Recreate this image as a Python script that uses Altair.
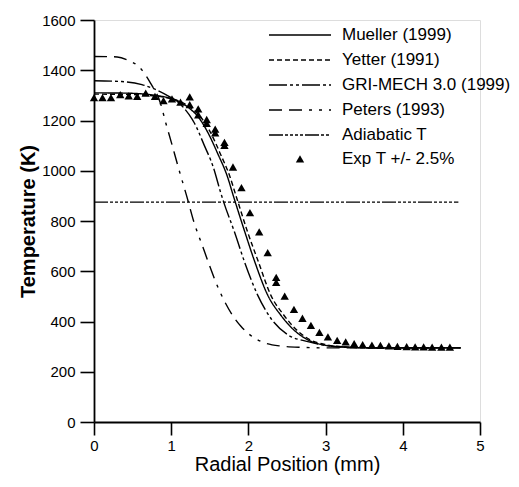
import altair as alt
import pandas as pd

# ---------------- data ----------------
line_names = ["Mueller (1999)", "Yetter (1991)", "GRI-MECH 3.0 (1999)",
              "Peters (1993)", "Adiabatic T"]
exp_name = ["Exp T +/- 2.5%"]

mueller_r = [0, 0.4, 0.8, 1.0, 1.12, 1.25, 1.34, 1.47, 1.6, 1.73, 1.8, 1.95, 2.08,
             2.25, 2.42, 2.59, 2.77, 3.0, 3.3, 3.7, 4.75]
mueller_T = [1310, 1309, 1300, 1287, 1272, 1245, 1218, 1155, 1070, 975, 905, 760, 640,
             505, 425, 366, 327, 305, 297, 295, 295]

yetter_r = [0, 0.4, 0.8, 1.0, 1.12, 1.25, 1.36, 1.5, 1.63, 1.76, 1.84, 1.99, 2.13,
            2.29, 2.46, 2.63, 2.8, 3.0, 3.3, 3.7, 4.75]
yetter_T = [1305, 1304, 1297, 1287, 1275, 1252, 1222, 1158, 1072, 977, 900, 756, 637,
            505, 425, 365, 327, 308, 298, 295, 295]

gri_r = [0, 0.36, 0.62, 0.8, 0.97, 1.1, 1.23, 1.3, 1.43, 1.54, 1.64, 1.68, 1.82, 1.95,
         2.12, 2.29, 2.51, 2.77, 3.0, 3.3, 3.7, 4.75]
gri_T = [1358, 1355, 1343, 1323, 1296, 1270, 1224, 1190, 1100, 1019, 914, 875, 756, 637,
         505, 413, 347, 320, 305, 298, 295, 295]

peters_r = [0, 0.3, 0.45, 0.58, 0.73, 0.86, 0.93, 1.0, 1.1, 1.2, 1.3, 1.4, 1.5, 1.6,
            1.7, 1.8, 1.9, 2.0, 2.1, 2.2, 2.4, 2.7, 3.0, 4.75]
peters_T = [1455, 1453, 1438, 1415, 1350, 1270, 1190, 1115, 1005, 900, 790, 705, 620, 540,
            475, 422, 382, 352, 330, 316, 303, 297, 295, 295]

adiabatic_r = [0, 4.72]
adiabatic_T = [875, 875]

exp_r = [0.0, 0.11, 0.22, 0.34, 0.45, 0.56, 0.67, 0.79, 0.90, 1.01, 1.12, 1.24, 1.24,
         1.35, 1.35, 1.46, 1.46, 1.57, 1.57, 1.69, 1.69, 1.80, 1.91, 2.02, 2.14, 2.25,
         2.36, 2.36, 2.47, 2.59, 2.70, 2.81, 2.92, 3.03, 3.15, 3.26, 3.37, 3.48, 3.60,
         3.71, 3.82, 3.93, 4.05, 4.16, 4.27, 4.38, 4.50, 4.61]
exp_T = [1290, 1290, 1290, 1302, 1297, 1295, 1308, 1295, 1278, 1285, 1272, 1293, 1262,
         1245, 1222, 1203, 1188, 1165, 1150, 1112, 1100, 1014, 932, 832, 756, 673,
         575, 555, 500, 447, 412, 384, 356, 338, 324, 318, 311, 307, 305,
         304, 302, 300, 299, 298, 298, 297, 297, 297]

dash_patterns = [[1, 0], [5, 3], [18, 3, 3, 3, 3, 3], [13, 7, 13, 7, 3, 7, 3, 7],
                 [14, 2, 3, 2, 3, 2, 3, 2, 3, 2]]
TRI_PATH = "M0,-0.125L0.135,0.11L-0.135,0.11Z"

x_ticks = [i * 0.25 for i in range(21)]
y_ticks = [i * 50 for i in range(33)]

# ---------------- tables ----------------
rows = []
for nm, rr, tt in [(line_names[0], mueller_r, mueller_T), (line_names[1], yetter_r, yetter_T),
                   (line_names[2], gri_r, gri_T), (line_names[3], peters_r, peters_T),
                   (line_names[4], adiabatic_r, adiabatic_T)]:
    for r, t in zip(rr, tt):
        rows.append({"series": nm, "r": r, "T": t})
line_df = pd.DataFrame(rows)
exp_df = pd.DataFrame({"series": exp_name[0], "r": exp_r, "T": exp_T})

FONT = "Liberation Sans"
SYM = 3844

xaxis = alt.Axis(
    values=x_ticks, title="Radial Position (mm)",
    labelExpr="datum.value % 1 === 0 ? format(datum.value, 'd') : ''",
    tickSize={"condition": {"test": "datum.value % 1 === 0", "value": 13}, "value": 7},
    labelOverlap=False, labelFlush=False, labelBound=False, grid=False,
    labelFontSize=15, labelPadding=3, titleFontSize=20, titleFontWeight="normal",
    titlePadding=1, domainColor="black", domainWidth=1.8, tickColor="black",
    tickWidth=1.6, labelColor="black", titleColor="black",
    labelFont=FONT, titleFont=FONT,
)
yaxis = alt.Axis(
    values=y_ticks, title="Temperature (K)",
    labelExpr="datum.value % 200 === 0 ? format(datum.value, 'd') : ''",
    tickSize={"condition": {"test": "datum.value % 200 === 0", "value": 14}, "value": 8},
    labelOverlap=False, labelFlush=False, labelBound=False, grid=False,
    labelFontSize=15, labelPadding=5, titleFontSize=20, titleFontWeight="bold",
    titlePadding=3, domainColor="black", domainWidth=1.8, tickColor="black",
    tickWidth=1.6, labelColor="black", titleColor="black",
    labelFont=FONT, titleFont=FONT,
)

common_legend = dict(
    title=None, orient="none", legendX=174,
    symbolSize=SYM, symbolStrokeWidth=1.4, symbolStrokeColor="black",
    labelFont=FONT, labelFontSize=17, labelColor="black", labelLimit=400,
    labelOffset=10, rowPadding=5, clipHeight=20, symbolOpacity=1,
)
line_legend = alt.Legend(legendY=5, symbolType="stroke", **common_legend)
exp_legend = alt.Legend(legendY=129, symbolFillColor="black", **common_legend)

xs = alt.Scale(domain=[0, 5], nice=False, zero=False)
ys = alt.Scale(domain=[0, 1600], nice=False)

lines = alt.Chart(line_df).mark_line(
    color="black", strokeWidth=1.4, interpolate="monotone"
).encode(
    x=alt.X("r:Q", scale=xs, axis=xaxis),
    y=alt.Y("T:Q", scale=ys, axis=yaxis),
    strokeDash=alt.StrokeDash("series:N",
                              scale=alt.Scale(domain=line_names, range=dash_patterns),
                              legend=line_legend),
)

points = alt.Chart(exp_df).mark_point(
    filled=True, color="black", opacity=1, size=SYM
).encode(
    x=alt.X("r:Q", scale=xs),
    y=alt.Y("T:Q", scale=ys),
    shape=alt.Shape("series:N", scale=alt.Scale(domain=exp_name, range=[TRI_PATH]),
                    legend=exp_legend),
)

chart = alt.layer(lines, points).properties(
    width=386, height=402,
    autosize=alt.AutoSizeParams(type="none"),
    padding={"left": 86, "top": 12, "right": 31, "bottom": 57},
).configure_view(stroke=None).configure(font=FONT, background="white")

chart.save("out.html", embed_options={"renderer": "svg", "actions": False})
